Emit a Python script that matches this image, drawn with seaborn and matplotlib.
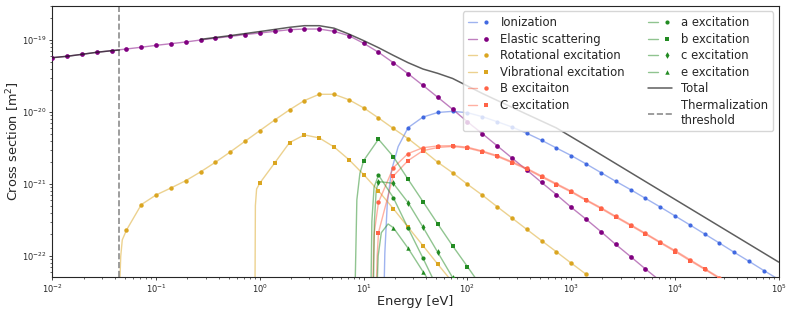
import numpy as np
import matplotlib
matplotlib.use("Agg")
import matplotlib.pyplot as plt
import seaborn as sns
from matplotlib.lines import Line2D
from matplotlib.legend_handler import HandlerTuple
from matplotlib.ticker import NullFormatter

# energy grid where the markers sit [eV]
energy_grid = [0.01, 0.0139, 0.0193, 0.0268, 0.0373, 0.0518, 0.072, 0.1, 0.139, 0.193,
               0.268, 0.373, 0.518, 0.72, 1.0, 1.39, 1.93, 2.68, 3.73, 5.18,
               7.2, 10, 13.9, 19.3, 26.8, 37.3, 51.8, 72, 100, 139,
               193, 268, 373, 518, 720, 1000, 1390, 1930, 2680, 3730,
               5180, 7200, 1e4, 1.39e4, 1.93e4, 2.68e4, 3.73e4, 5.18e4, 7.2e4, 1e5]

# cross sections [m^2]
ionization = [6.05e-21, 8.5e-21, 9.84e-21, 1.02e-20, 9.77e-21, 8.61e-21, 7.33e-21, 6.19e-21,
              5.06e-21, 4.04e-21, 3.16e-21, 2.48e-21, 1.90e-21, 1.44e-21, 1.09e-21, 8.34e-22,
              6.32e-22, 4.79e-22, 3.60e-22, 2.70e-22, 2.02e-22, 1.51e-22, 1.12e-22, 8.4e-23,
              6.25e-23, 4.7e-23]
ionization_start = 24
ionization_onset_E = [15.7, 16.0, 16.9, 18.6, 21.5]
ionization_onset = [3e-23, 1.09e-22, 5.4e-22, 1.56e-21, 3.3e-21]

elastic = [5.68e-20, 5.94e-20, 6.32e-20, 6.75e-20, 7.10e-20, 7.50e-20, 7.93e-20, 8.43e-20,
           8.89e-20, 9.38e-20, 1.00e-19, 1.06e-19, 1.12e-19, 1.19e-19, 1.25e-19, 1.32e-19,
           1.39e-19, 1.42e-19, 1.42e-19, 1.32e-19, 1.15e-19, 9.0e-20, 6.75e-20, 4.84e-20,
           3.40e-20, 2.34e-20, 1.60e-20, 1.09e-20, 7.3e-21, 5.0e-21, 3.40e-21, 2.30e-21,
           1.56e-21, 1.05e-21, 7.11e-22, 4.74e-22, 3.24e-22, 2.18e-22, 1.45e-22, 9.8e-23,
           6.6e-23, 4.5e-23]
elastic_start = 0

rotational = [2.28e-22, 5.16e-22, 7.03e-22, 8.79e-22, 1.11e-21, 1.47e-21, 2.0e-21, 2.78e-21,
              3.92e-21, 5.51e-21, 7.74e-21, 1.07e-20, 1.44e-20, 1.76e-20, 1.76e-20, 1.48e-20,
              1.14e-20, 8.26e-21, 5.9e-21, 4.27e-21, 2.94e-21, 2.0e-21, 1.43e-21, 9.9e-22,
              7.0e-22, 4.84e-22, 3.37e-22, 2.34e-22, 1.63e-22, 1.14e-22, 7.94e-23, 5.57e-23]
rotational_start = 5
rotational_onset_E = [0.0443, 0.0456, 0.0472]
rotational_onset = [3e-23, 9.8e-23, 1.67e-22]

vibrational = [1.03e-21, 1.96e-21, 3.75e-21, 4.80e-21, 4.36e-21, 3.27e-21, 2.18e-21, 1.35e-21,
               8.0e-22, 4.54e-22, 2.51e-22, 1.39e-22, 7.67e-23, 4.3e-23]
vibrational_start = 14
vibrational_onset_E = [0.897, 0.905, 0.93]
vibrational_onset = [3e-23, 5e-22, 8.5e-22]

b_upper = [5.57e-22, 1.68e-21, 2.64e-21, 3.19e-21, 3.37e-21, 3.40e-21, 3.24e-21, 2.87e-21,
           2.48e-21, 2.04e-21, 1.65e-21, 1.29e-21, 1.01e-21, 7.94e-22, 6.05e-22, 4.69e-22,
           3.56e-22, 2.72e-22, 2.07e-22, 1.56e-22, 1.19e-22, 8.9e-23, 6.67e-23, 5.0e-23]
b_upper_start = 22
b_upper_onset_E = [12.2, 12.6]
b_upper_onset = [3e-23, 2e-22]

c_upper = [2.11e-22, 1.29e-21, 2.11e-21, 2.90e-21, 3.21e-21, 3.32e-21, 3.15e-21, 2.80e-21,
           2.41e-21, 1.98e-21, 1.60e-21, 1.25e-21, 9.8e-22, 7.7e-22, 5.9e-22, 4.55e-22,
           3.46e-22, 2.64e-22, 2.01e-22, 1.52e-22, 1.15e-22, 8.6e-23, 6.5e-23, 4.85e-23]
c_upper_start = 22
c_upper_onset_E = [13.2, 13.5]
c_upper_onset = [3e-23, 1e-22]

a_exc = [1.33e-21, 6.46e-22, 2.43e-22, 9.3e-23, 3.5e-23]
a_exc_start = 22
a_exc_onset_E = [11.75, 12.0, 12.6]
a_exc_onset = [3e-23, 3e-22, 9e-22]

b_exc = [2.11e-21, 4.18e-21, 2.4e-21, 1.16e-21, 5.68e-22, 2.78e-22, 1.38e-22, 7.1e-23, 3.6e-23]
b_exc_start = 21
b_exc_onset_E = [8.25, 8.6, 9.2]
b_exc_onset = [3e-23, 6e-22, 1.4e-21]

c_exc = [1.08e-21, 1.02e-21, 5.5e-22, 2.51e-22, 1.12e-22, 5e-23]
c_exc_start = 22
c_exc_onset_E = [12.4, 12.7, 13.2]
c_exc_onset = [3e-23, 3e-22, 8e-22]

e_exc = [2.47e-22, 1.28e-22, 6.05e-23, 2.9e-23]
e_exc_start = 23
e_exc_onset_E = [13.4, 13.8, 14.8, 17.2]
e_exc_onset = [3e-23, 1e-22, 2.1e-22, 2.78e-22]

total_low_E = [0.01, 0.0139, 0.0193, 0.0268, 0.0373, 0.0443]
total_low = [5.68e-20, 5.94e-20, 6.32e-20, 6.75e-20, 7.10e-20, 7.26e-20]
total_high_E = [0.268, 0.518, 1.0, 1.93, 2.68, 3.73, 5.18, 7.2, 10, 13.9, 19.3, 26.8,
                37.3, 51.8, 72, 139, 373, 720, 1390, 3730, 1.93e4, 1e5]
total_high = [1.02e-19, 1.15e-19, 1.31e-19, 1.50e-19, 1.58e-19, 1.58e-19, 1.46e-19, 1.21e-19,
              9.8e-20, 7.82e-20, 6.12e-20, 4.84e-20, 3.95e-20, 3.44e-20, 2.92e-20, 1.81e-20,
              9.3e-21, 6.0e-21, 3.41e-21, 1.44e-21, 3.44e-22, 8.2e-23]

thermal_E = 0.0443

x_ticks = [1e-2, 1e-1, 1e0, 1e1, 1e2, 1e3, 1e4, 1e5]
y_ticks = [1e-22, 1e-21, 1e-20, 1e-19]

series = [
    ("Ionization", ionization, ionization_start, ionization_onset_E, ionization_onset, "royalblue", "o", 3.0),
    ("Elastic scattering", elastic, elastic_start, [], [], "purple", "o", 3.4),
    ("Rotational excitation", rotational, rotational_start, rotational_onset_E, rotational_onset, "goldenrod", "o", 3.2),
    ("Vibrational excitation", vibrational, vibrational_start, vibrational_onset_E, vibrational_onset, "goldenrod", "s", 3.0),
    ("B excitaiton", b_upper, b_upper_start, b_upper_onset_E, b_upper_onset, "tomato", "o", 3.2),
    ("C excitation", c_upper, c_upper_start, c_upper_onset_E, c_upper_onset, "tomato", "s", 3.0),
    ("a excitation", a_exc, a_exc_start, a_exc_onset_E, a_exc_onset, "forestgreen", "o", 3.0),
    ("b excitation", b_exc, b_exc_start, b_exc_onset_E, b_exc_onset, "forestgreen", "s", 3.0),
    ("c excitation", c_exc, c_exc_start, c_exc_onset_E, c_exc_onset, "forestgreen", "d", 3.4),
    ("e excitation", e_exc, e_exc_start, e_exc_onset_E, e_exc_onset, "forestgreen", "^", 3.2),
]

sns.set_theme(style="ticks")
plt.rcParams["font.family"] = ["DejaVu Sans"]

fig, ax = plt.subplots(figsize=(7.93, 3.14), dpi=100)
fig.subplots_adjust(left=0.066, right=0.982, top=0.982, bottom=0.118)
ax.set_xscale("log")
ax.set_yscale("log")

handles, labels = [], []
for label, vals, start, on_E, on_v, color, marker, ms in series:
    E = energy_grid[start:start + len(vals)]
    sns.lineplot(x=list(on_E) + E, y=list(on_v) + vals, ax=ax, color=color, alpha=0.5,
                 lw=1.0, estimator=None, sort=False, legend=False)
    sns.scatterplot(x=E, y=vals, ax=ax, color=color, marker=marker, s=ms ** 2,
                    linewidth=0, legend=False, zorder=3)
    handles.append((Line2D([], [], color=color, alpha=0.5, lw=1.0),
                    Line2D([], [], color=color, marker=marker, ls="none", ms=ms, mew=0)))
    labels.append(label)

sns.lineplot(x=total_low_E, y=total_low, ax=ax, color="k", alpha=0.7, lw=1.1,
             estimator=None, sort=False, legend=False, zorder=4)
sns.lineplot(x=total_high_E, y=total_high, ax=ax, color="k", alpha=0.7, lw=1.1,
             estimator=None, sort=False, legend=False, zorder=4)
ax.axvline(thermal_E, color="gray", ls="--", lw=1.2, alpha=0.9)
handles.append(Line2D([], [], color="k", alpha=0.7, lw=1.1))
labels.append("Total")
handles.append(Line2D([], [], color="gray", ls="--", lw=1.2, alpha=0.9))
labels.append("Thermalization\nthreshold")

ax.set_xticks(x_ticks)
ax.set_yticks(y_ticks)
ax.set_xlim(1e-2, 1e5)
ax.set_ylim(5.1e-23, 3e-19)
ax.xaxis.set_minor_formatter(NullFormatter())
ax.yaxis.set_minor_formatter(NullFormatter())
ax.set_xlabel("Energy [eV]", fontsize=9.3, labelpad=0)
ax.set_ylabel("Cross section [m$^2$]", fontsize=9.3, labelpad=0)
ax.tick_params(which="major", labelsize=6, length=2.5, width=0.6, pad=1.5)
ax.tick_params(which="minor", length=1.5, width=0.5)
for sp in ax.spines.values():
    sp.set_linewidth(0.8)

ax.legend(handles, labels, ncol=2, loc="upper right", fontsize=8.4, labelspacing=0.3,
          handler_map={tuple: HandlerTuple(ndivide=None)}, framealpha=0.8)

fig.savefig("out.png", dpi=100)
